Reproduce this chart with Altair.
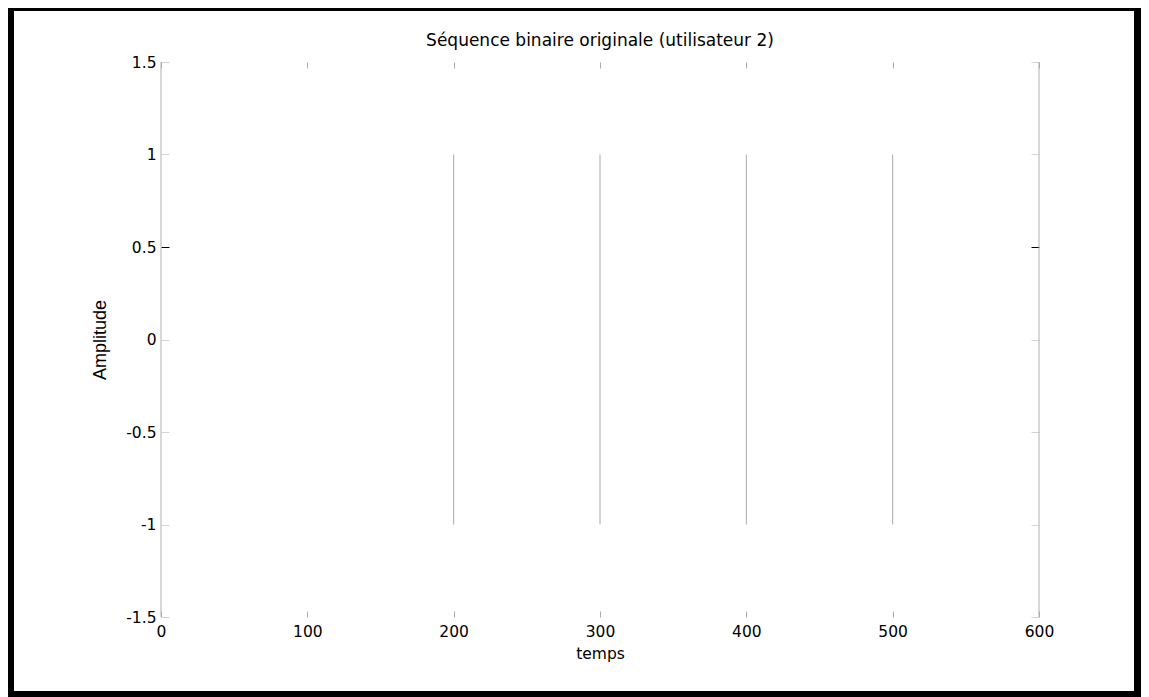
import altair as alt
import pandas as pd

# ---- data ----
x_transitions = [200, 300, 400, 500]      # positions of the visible level changes
y_low = [-1, -1, -1, -1]
y_high = [1, 1, 1, 1]
x_limits = [0, 600]
y_limits = [-1.5, 1.5]
x_ticks = [0, 100, 200, 300, 400, 500, 600]
y_ticks = [-1.5, -1, -0.5, 0, 0.5, 1, 1.5]

title_text = "Séquence binaire originale (utilisateur 2)"
x_title = "temps"
y_title = "Amplitude"

trans = pd.DataFrame({"t": x_transitions, "lo": y_low, "hi": y_high})
edges = pd.DataFrame({"t": x_limits, "lo": [y_limits[0]] * 2, "hi": [y_limits[1]] * 2})
frame_df = pd.DataFrame({"k": [0]})

xs = alt.Scale(domain=x_limits, nice=False, zero=False)
ys = alt.Scale(domain=y_limits, nice=False, zero=False)

FONT = "DejaVu Sans"
YFONT = "Liberation Sans"
GRAY = "#aaaaaa"
ytick_color = {"condition": {"test": "datum.value == 0.5", "value": "black"}, "value": "#d4d4d4"}
plain = "'' + datum.value"

main = alt.Chart(trans).mark_rule(color="#a8a8a8", strokeWidth=1).encode(
    x=alt.X("t:Q", scale=xs, axis=alt.Axis(
        orient="bottom", values=x_ticks, title=x_title, domain=False, grid=False,
        offset=-6, tickSize=6, tickColor=GRAY, labelPadding=7, labelFlush=False,
        labelExpr=plain,
        labelFont=FONT, labelFontSize=15.5, labelColor="black",
        titleFont=FONT, titleFontSize=15.5, titleFontWeight="normal", titleColor="black",
        titlePadding=7)),
    y=alt.Y("lo:Q", scale=ys, axis=alt.Axis(
        orient="left", values=y_ticks, title=y_title, domain=False, grid=False,
        offset=-8, tickSize=8, tickColor=ytick_color, labelPadding=5,
        labelExpr=plain,
        labelFont=FONT, labelFontSize=15.5, labelColor="black",
        titleFont=YFONT, titleFontSize=18, titleFontWeight="normal", titleColor="black",
        titlePadding=16)),
    y2="hi:Q",
)

box = alt.Chart(edges).mark_rule(color="#b0b0b0", strokeWidth=1).encode(
    x=alt.X("t:Q", scale=xs, axis=alt.Axis(
        orient="top", values=x_ticks, labels=False, title=None, domain=False, grid=False,
        offset=-6, tickSize=6, tickColor=GRAY)),
    y=alt.Y("lo:Q", scale=ys, axis=alt.Axis(
        orient="right", values=y_ticks, labels=False, title=None, domain=False, grid=False,
        offset=-8, tickSize=8, tickColor=ytick_color)),
    y2="hi:Q",
)

frame = alt.Chart(frame_df).mark_rect(
    stroke="black", strokeWidth=8, fillOpacity=0, clip=False
).encode(
    x=alt.value(-151), x2=alt.value(977), y=alt.value(-55), y2=alt.value(633)
)

chart = alt.layer(frame, box, main).resolve_axis(
    x="independent", y="independent"
).properties(
    width=878,
    height=555,
    padding={"left": 153, "top": 54, "right": 102, "bottom": 80},
    autosize=alt.AutoSizeParams(type="none"),
    title=alt.Title(title_text, font=FONT, fontSize=17, fontWeight="normal",
                    color="black", anchor="middle", offset=-47),
    background="white",
).configure_view(strokeWidth=0)

chart.save("out.html", embed_options={"renderer": "svg", "actions": False})
